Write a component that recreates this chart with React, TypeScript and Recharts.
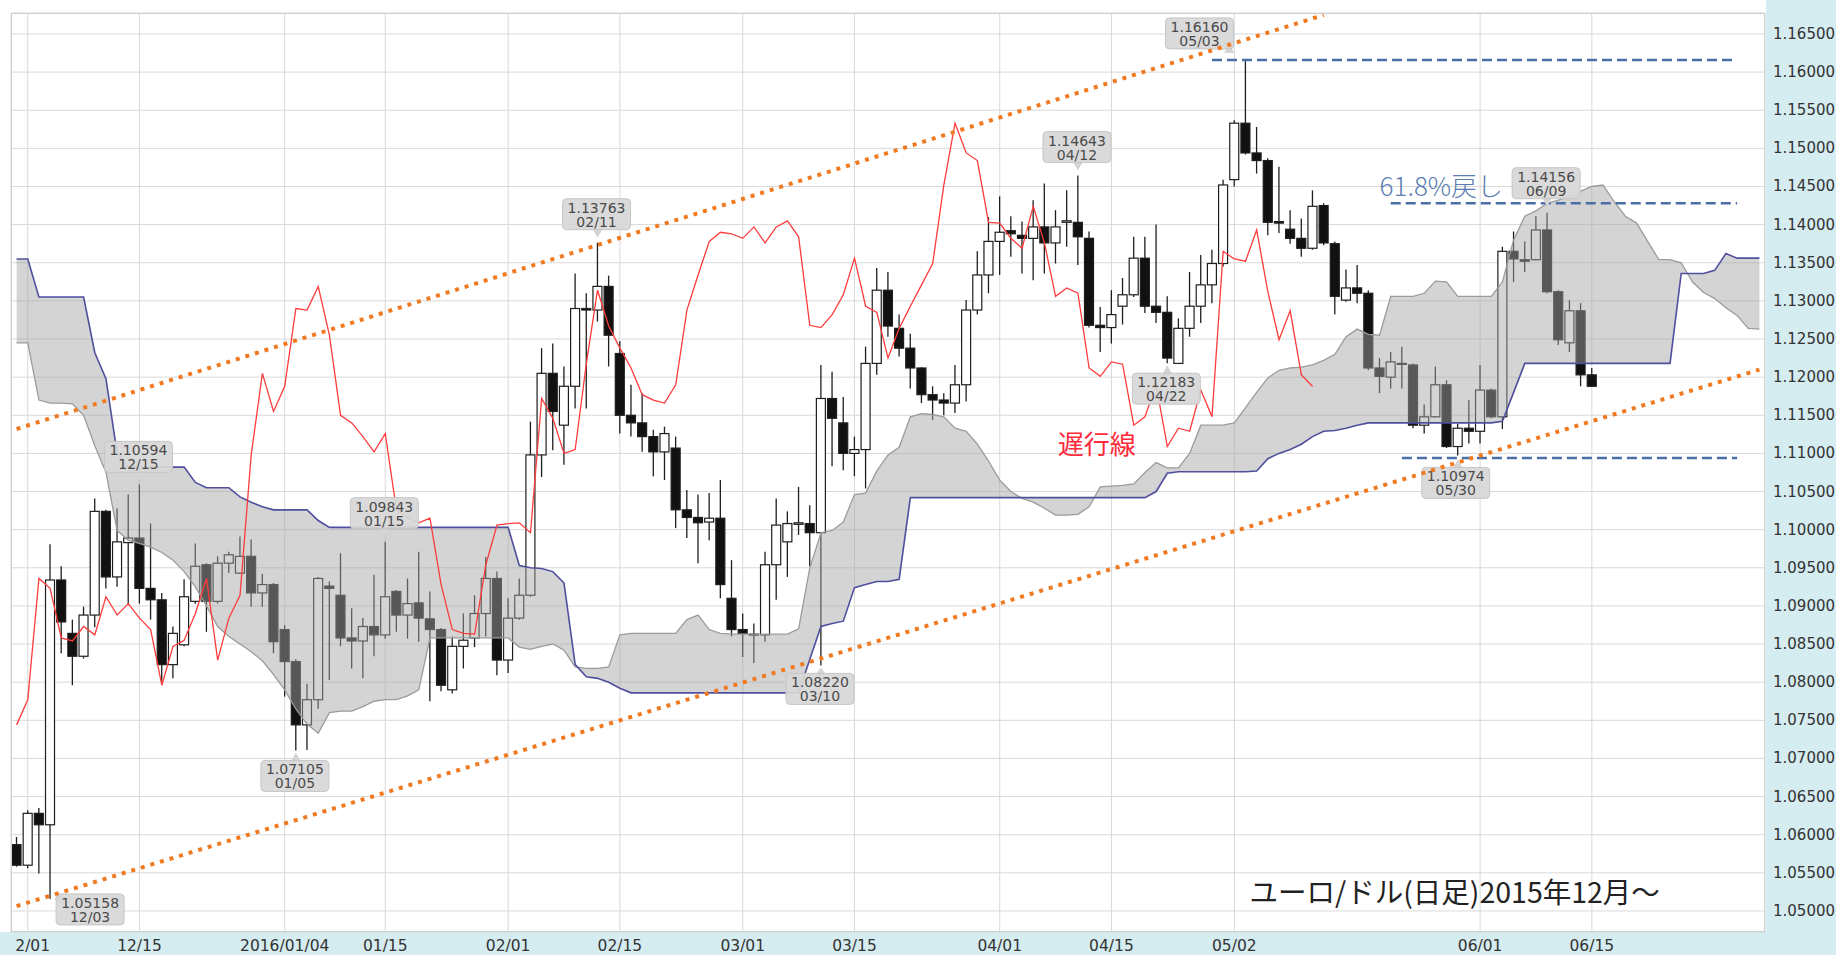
import React from 'react';
import {
  ComposedChart,
  Bar,
  Area,
  Line,
  XAxis,
  YAxis,
  CartesianGrid,
  ReferenceLine,
  ReferenceDot,
} from 'recharts';

// ---------- categories ----------
const dates = [
  '11/30','12/01','12/02','12/03','12/04','12/07','12/08','12/09','12/10','12/11','12/14','12/15','12/16','12/17','12/18','12/21','12/22','12/23','12/24','12/25','12/28','12/29','12/30','12/31',
  '01/04','01/05','01/06','01/07','01/08','01/11','01/12','01/13','01/14','01/15','01/18','01/19','01/20','01/21','01/22','01/25','01/26','01/27','01/28','01/29',
  '02/01','02/02','02/03','02/04','02/05','02/08','02/09','02/10','02/11','02/12','02/15','02/16','02/17','02/18','02/19','02/22','02/23','02/24','02/25','02/26','02/29',
  '03/01','03/02','03/03','03/04','03/07','03/08','03/09','03/10','03/11','03/14','03/15','03/16','03/17','03/18','03/21','03/22','03/23','03/24','03/25','03/28','03/29','03/30','03/31',
  '04/01','04/04','04/05','04/06','04/07','04/08','04/11','04/12','04/13','04/14','04/15','04/18','04/19','04/20','04/21','04/22','04/25','04/26','04/27','04/28','04/29',
  '05/02','05/03','05/04','05/05','05/06','05/09','05/10','05/11','05/12','05/13','05/16','05/17','05/18','05/19','05/20','05/23','05/24','05/25','05/26','05/27','05/30','05/31',
  '06/01','06/02','06/03','06/06','06/07','06/08','06/09','06/10','06/13','06/14','06/15',
  '06/16','06/17','06/20','06/21','06/22','06/23','06/24','06/27','06/28','06/29','06/30','07/01','07/04','07/05','07/06',
];

// ---------- candles ----------
const opens = [
  1.0587,1.0560,1.0628,1.0613,1.0934,1.0864,1.0834,1.0888,1.1024,1.0938,1.0983,1.0989,1.0923,1.0908,1.0823,1.0849,1.0906,1.0954,1.0906,1.0956,
  1.0943,1.0965,1.0917,1.0928,1.0869,1.0827,1.0744,1.0777,1.0926,1.0914,1.0858,1.0854,1.0873,1.0862,1.0919,1.0888,1.0904,1.0883,1.0869,1.0790,
  1.0847,1.0858,1.0890,1.0936,1.0829,1.0884,1.0914,1.1098,1.1205,1.1137,1.1188,1.1290,1.1288,1.1319,1.1231,1.1150,1.1140,1.1122,1.1102,1.1107,
  1.1026,1.1016,1.1010,1.1015,1.0910,1.0869,1.0862,1.0862,1.0954,1.0984,1.1007,1.1008,1.0996,1.1172,1.1140,1.1100,1.1105,1.1218,1.1314,1.1264,
  1.1238,1.1212,1.1177,1.1170,1.1166,1.1190,1.1288,1.1334,1.1378,1.1392,1.1386,1.1382,1.1397,1.1376,1.1403,1.1403,1.1382,1.1268,1.1265,1.1293,
  1.1308,1.1356,1.1293,1.1285,1.1218,1.1264,1.1293,1.1321,1.1349,1.1459,1.1533,1.1494,1.1484,1.1404,1.1394,1.1382,1.1369,1.1425,1.1375,1.1301,
  1.1317,1.1310,1.1212,1.1200,1.1218,1.1216,1.1137,1.1148,1.1190,1.1109,1.1133,1.1129,1.1183,1.1148,1.1365,1.1354,1.1354,1.1393,1.1312,1.1245,
  1.1287,1.1203,
];
const highs = [
  1.0597,1.0632,1.0635,1.0981,1.0952,1.0882,1.0899,1.1041,1.1026,1.1028,1.1046,1.10594,1.1008,1.0917,1.0873,1.0935,1.0982,1.0956,1.0965,1.0971,
  1.0991,1.0987,1.0942,1.0930,1.0875,1.0830,1.0798,1.0938,1.0932,1.0969,1.0897,1.0884,1.0941,1.09843,1.0921,1.0936,1.0971,1.0919,1.0871,1.0860,
  1.0890,1.0914,1.0964,1.0945,1.0910,1.0936,1.11416,1.1238,1.1244,1.1214,1.1336,1.1310,1.13763,1.1333,1.1247,1.1190,1.1179,1.1131,1.1135,1.1122,
  1.1052,1.1046,1.1048,1.1065,1.0960,1.0890,1.0877,1.0971,1.1041,1.1024,1.1056,1.1032,1.1216,1.1207,1.1174,1.1122,1.1240,1.1343,1.1338,1.1282,
  1.1257,1.1213,1.1188,1.1179,1.1216,1.1301,1.1365,1.1410,1.1437,1.1411,1.1404,1.1432,1.1454,1.1419,1.1445,1.14643,1.1391,1.1292,1.1314,1.1330,
  1.1384,1.1384,1.1400,1.1306,1.1277,1.1338,1.1360,1.1367,1.1459,1.1537,1.1616,1.1528,1.1487,1.1476,1.1419,1.1408,1.1445,1.1428,1.1378,1.1341,
  1.1347,1.1314,1.1225,1.1233,1.1240,1.1218,1.1164,1.1214,1.1196,1.1139,1.1170,1.1216,1.1185,1.1371,1.1391,1.1378,1.1411,1.14156,1.1314,1.1301,
  1.1297,1.1212,
];
const lows = [
  1.0558,1.0556,1.0549,1.05158,1.0838,1.0796,1.0831,1.0872,1.0923,1.0925,1.0901,1.0903,1.0882,1.0799,1.0805,1.0847,1.0903,1.0866,1.0903,1.0943,
  1.0942,1.0899,1.0899,1.0838,1.0781,1.07105,1.0711,1.0765,1.0803,1.0847,1.0818,1.0805,1.0834,1.0857,1.0866,1.0857,1.0853,1.0775,1.0788,1.0785,
  1.0818,1.0846,1.0860,1.0809,1.0812,1.0882,1.0912,1.1069,1.1104,1.1085,1.1159,1.1159,1.1273,1.1214,1.1126,1.1122,1.1102,1.1070,1.1065,1.1002,
  1.0989,1.0956,1.0986,1.0910,1.0860,1.0833,1.0825,1.0853,1.0908,1.0938,1.0993,1.0952,1.0822,1.1083,1.1078,1.1070,1.1054,1.1203,1.1253,1.1227,
  1.1185,1.1166,1.1144,1.1150,1.1153,1.1168,1.1282,1.1310,1.1334,1.1358,1.1336,1.1327,1.1336,1.1349,1.1371,1.1347,1.1265,1.1233,1.1244,1.1269,
  1.1305,1.1284,1.1271,1.12183,1.1218,1.1253,1.1271,1.1297,1.1345,1.1450,1.1492,1.1467,1.1386,1.1389,1.1375,1.1358,1.1367,1.1373,1.1282,1.1299,
  1.1297,1.1209,1.1179,1.1185,1.1185,1.1133,1.1126,1.1147,1.1107,1.10974,1.1113,1.1113,1.1146,1.1132,1.1325,1.1338,1.1353,1.1310,1.1242,1.1233,
  1.1188,1.1187,
];
const closes = [
  1.0560,1.0628,1.0613,1.0934,1.0879,1.0834,1.0888,1.1024,1.0938,1.0984,1.0989,1.0923,1.0908,1.0823,1.0864,1.0912,1.0952,1.0906,1.0956,1.0967,
  1.0965,1.0917,1.0928,1.0853,1.0827,1.0744,1.0777,1.0936,1.0923,1.0858,1.0854,1.0873,1.0862,1.0912,1.0888,1.0903,1.0884,1.0869,1.0796,1.0847,
  1.0855,1.0890,1.0936,1.0829,1.0884,1.0914,1.1098,1.1205,1.1155,1.1188,1.1290,1.1288,1.1319,1.1255,1.1150,1.1140,1.1122,1.1102,1.1126,1.1026,
  1.1016,1.1009,1.1015,1.0928,1.0869,1.0864,1.0863,1.0954,1.1006,1.1008,1.1009,1.0996,1.1172,1.1146,1.1100,1.1105,1.1218,1.1314,1.1267,1.1238,
  1.1212,1.1177,1.1170,1.1166,1.1190,1.1288,1.1334,1.1378,1.1390,1.1388,1.1382,1.1397,1.1376,1.1397,1.1405,1.1384,1.1268,1.1265,1.1282,1.1308,
  1.1356,1.1293,1.1285,1.1225,1.1264,1.1293,1.1321,1.1349,1.1452,1.1533,1.1494,1.1484,1.1403,1.1402,1.1382,1.1369,1.1424,1.1376,1.1306,1.1317,
  1.1310,1.1212,1.1201,1.1220,1.1217,1.1137,1.1148,1.1190,1.1109,1.1133,1.1129,1.1183,1.1148,1.1365,1.1355,1.1352,1.1393,1.1312,1.1249,1.1287,
  1.1203,1.1188,
];

// ---------- ichimoku cloud (leading spans, already shifted forward) ----------
const spanA = [
  1.1245,1.1245,1.1170,1.1166,1.1166,1.1165,1.1150,1.1110,1.1075,1.0999,1.0986,1.0982,1.0977,1.0970,1.0960,1.0945,1.0925,1.0900,1.0873,1.0860,
  1.0850,1.0840,1.0828,1.0810,1.0790,1.0765,1.0745,1.0733,1.0760,1.0762,1.0762,1.0768,1.0775,1.0777,1.0777,1.0782,1.0790,1.0858,1.0858,1.0858,
  1.0858,1.0858,1.0858,1.0858,1.0858,1.0846,1.0843,1.0847,1.0850,1.0842,1.0820,1.0818,1.0818,1.0820,1.0862,1.0864,1.0864,1.0864,1.0864,1.0864,
  1.0882,1.0888,1.0869,1.0864,1.0863,1.0863,1.0863,1.0863,1.0863,1.0863,1.0870,1.0950,1.0996,1.0999,1.1010,1.1046,1.1048,1.1077,1.1098,1.1108,
  1.1148,1.1152,1.1151,1.1148,1.1133,1.1129,1.1112,1.1090,1.1065,1.1050,1.1041,1.1036,1.1028,1.1019,1.1019,1.1020,1.1030,1.1056,1.1057,1.1058,
  1.1060,1.1075,1.1088,1.1081,1.1081,1.1100,1.1137,1.1137,1.1137,1.1140,1.1160,1.1180,1.1199,1.1209,1.1212,1.1213,1.1216,1.1222,1.1230,1.1253,
  1.1263,1.1256,1.1255,1.1306,1.1306,1.1306,1.1310,1.1326,1.1325,1.1306,1.1306,1.1306,1.1306,1.1325,1.1380,1.1411,1.1418,1.1428,1.1432,1.1437,
  1.1444,1.1450,1.1452,1.1430,1.1411,1.1402,1.1378,1.1354,1.1354,1.1350,1.1325,1.1311,1.1303,1.1291,1.1281,1.1264,1.1263,
];
const spanB = [
  1.1355,1.1355,1.1305,1.1305,1.1305,1.1305,1.1305,1.1232,1.1198,1.1100,1.1082,1.1082,1.1082,1.1082,1.1082,1.1082,1.1062,1.1055,1.1055,1.1055,
  1.1043,1.1036,1.1030,1.1026,1.1026,1.1026,1.1026,1.1012,1.1003,1.1003,1.1003,1.1003,1.1003,1.1003,1.1003,1.1003,1.1003,1.1003,1.1003,1.1003,
  1.1003,1.1003,1.1003,1.1003,1.1003,1.0953,1.0950,1.0949,1.0945,1.0930,1.0823,1.0807,1.0805,1.0800,1.0792,1.0786,1.0786,1.0786,1.0786,1.0786,
  1.0786,1.0786,1.0786,1.0786,1.0786,1.0786,1.0786,1.0786,1.0786,1.0786,1.0786,1.0830,1.0873,1.0877,1.0880,1.0924,1.0928,1.0932,1.0932,1.0935,
  1.1042,1.1042,1.1042,1.1042,1.1042,1.1042,1.1042,1.1042,1.1042,1.1042,1.1042,1.1042,1.1042,1.1042,1.1042,1.1042,1.1042,1.1042,1.1042,1.1042,
  1.1042,1.1042,1.1050,1.1074,1.1076,1.1076,1.1076,1.1076,1.1076,1.1076,1.1076,1.1077,1.1093,1.1100,1.1105,1.1112,1.1122,1.1129,1.1130,1.1133,
  1.1137,1.1140,1.1140,1.1140,1.1140,1.1140,1.1140,1.1140,1.1140,1.1140,1.1140,1.1140,1.1140,1.1142,1.1180,1.1218,1.1218,1.1218,1.1218,1.1218,
  1.1218,1.1218,1.1218,1.1218,1.1218,1.1218,1.1218,1.1218,1.1218,1.1336,1.1336,1.1336,1.1340,1.1362,1.1356,1.1356,1.1356,
];

// lagging span: close plotted 25 bars back
const lagShift = 25;

// ---------- ticks ----------
const xTicks = ['12/01','12/15','01/04','01/15','02/01','02/15','03/01','03/15','04/01','04/15','05/02','06/01','06/15'];
const xTickText: Record<string, string> = { '01/04': '2016/01/04' };
const yTicks = [
  1.05,1.055,1.06,1.065,1.07,1.075,1.08,1.085,1.09,1.095,1.1,1.105,1.11,1.115,1.12,1.125,1.13,1.135,1.14,1.145,1.15,1.155,1.16,1.165,
];

// ---------- highlighted extremes ----------
const calloutDates = ['12/03','12/15','01/05','01/15','02/11','03/10','04/12','04/22','05/03','05/30','06/09'];
const calloutPrices = [1.05158,1.10594,1.07105,1.09843,1.13763,1.0822,1.14643,1.12183,1.1616,1.10974,1.14156];

// ---------- drawn lines ----------
const upperTrend = [{ d: '11/30', v: 1.1132 }, { d: '05/12', v: 1.1675 }];
const lowerTrend = [{ d: '11/30', v: 1.05064 }, { d: '07/06', v: 1.12099 }];
const hLines = [
  { from: '04/28', to: '07/04', v: 1.1616 },
  { from: '05/20', to: '07/04', v: 1.1428 },
  { from: '05/23', to: '07/04', v: 1.1094 },
];

// layout of callout boxes (pixel offsets of the box's top-left corner from its point)
const calloutOffsets: [number, number][] = [
  [6, -5], [-35, -43], [-35, 10], [-35, -44], [-35, -44], [-35, 8], [-35, -44], [-35, 10], [-80, -42], [-36, 12], [-35, -45],
];

const data = dates.map((d, i) => {
  const has = i < opens.length;
  const li = i + lagShift;
  return {
    date: d,
    hl: has ? [lows[i], highs[i]] : null,
    o: has ? opens[i] : null,
    h: has ? highs[i] : null,
    l: has ? lows[i] : null,
    c: has ? closes[i] : null,
    cloud: [spanA[i], spanB[i]],
    spanA: spanA[i],
    spanB: spanB[i],
    chikou: li < closes.length ? closes[li] : null,
  };
});

const NUM_FONT = '"DejaVu Sans", Verdana, sans-serif';
const JP_FONT = '"Noto Sans CJK JP", "DejaVu Sans", sans-serif';

const Candle = (props: any) => {
  const { x, y, width, height, payload } = props;
  if (!payload || payload.o == null || x == null) return <g />;
  const { o, h, l, c } = payload;
  const top = Math.min(y, y + height);
  const hh = Math.abs(height);
  const cx = x + width / 2;
  const range = h - l || 1;
  const toY = (v: number) => top + ((h - v) / range) * hh;
  const bTop = toY(Math.max(o, c));
  const bBot = toY(Math.min(o, c));
  const bw = 9;
  const up = c >= o;
  return (
    <g>
      <line x1={cx} x2={cx} y1={top} y2={top + hh} stroke="#1e1e1e" strokeWidth={1.3} />
      <rect
        x={cx - bw / 2}
        y={bTop}
        width={bw}
        height={Math.max(1, bBot - bTop)}
        fill={up ? '#ffffff' : '#111111'}
        stroke="#1e1e1e"
        strokeWidth={1.2}
      />
    </g>
  );
};

const XTick = (props: any) => {
  const { x, y, payload } = props;
  const v = payload.value;
  const label = xTickText[v] ?? v;
  const t = (
    <text x={x} y={y + 6} textAnchor="middle" dominantBaseline="central" fontSize={15.5} fill="#333" fontFamily={NUM_FONT}>
      {label}
    </text>
  );
  if (v === xTicks[0]) {
    return (
      <g>
        <defs>
          <clipPath id="firstTickClip">
            <rect x={15} y={y - 10} width={120} height={40} />
          </clipPath>
        </defs>
        <g clipPath="url(#firstTickClip)">{t}</g>
      </g>
    );
  }
  return t;
};

const YTick = (props: any) => {
  const { x, y, payload } = props;
  return (
    <text x={x} y={y} textAnchor="start" dominantBaseline="central" fontSize={15} fill="#333" fontFamily={NUM_FONT}>
      {Number(payload.value).toFixed(5)}
    </text>
  );
};

const makeCallout = (k: number) => (p: any) => {
  const { cx, cy } = p;
  if (cx == null || cy == null) return <g />;
  const [ox, oy] = calloutOffsets[k];
  const w = 68;
  const h = 31;
  const bx = cx + ox;
  const by = cy + oy;
  const px = Math.min(Math.max(cx, bx + 6), bx + w - 6);
  const py = Math.min(Math.max(cy, by), by + h);
  const dx = cx - px;
  const dy = cy - py;
  const len = Math.hypot(dx, dy) || 1;
  const ux = dx / len;
  const uy = dy / len;
  const tip = Math.max(0, Math.min(len - 2, 8));
  const ax = px + ux * tip;
  const ay = py + uy * tip;
  const nx = -uy;
  const ny = ux;
  const pts = `${px + nx * 5 - ux},${py + ny * 5 - uy} ${ax},${ay} ${px - nx * 5 - ux},${py - ny * 5 - uy}`;
  return (
    <g>
      <polygon points={pts} fill="#d4d4d4" />
      <rect x={bx} y={by} width={w} height={h} rx={4} ry={4} fill="#d7d7d7" fillOpacity={0.93} stroke="#c6c6c6" strokeWidth={1} />
      <text x={bx + w / 2} y={by + 9} textAnchor="middle" dominantBaseline="central" fontSize={14} fill="#4a4a4a" fontFamily={NUM_FONT}>
        {calloutPrices[k].toFixed(5)}
      </text>
      <text x={bx + w / 2} y={by + 23} textAnchor="middle" dominantBaseline="central" fontSize={14} fill="#4a4a4a" fontFamily={NUM_FONT}>
        {calloutDates[k]}
      </text>
    </g>
  );
};

const makeText = (txt: string, dx: number, size: number, color: string, weight = 400) => (p: any) => {
  const { cx, cy } = p;
  if (cx == null || cy == null) return <g />;
  return (
    <text x={cx + dx} y={cy} textAnchor="start" dominantBaseline="central" fontSize={size} fontWeight={weight} fill={color} fontFamily={JP_FONT}>
      {txt}
    </text>
  );
};

export default function App() {
  return (
    <div style={{ position: 'absolute', left: 0, top: 0, width: 1836, height: 955, background: '#ffffff', overflow: 'hidden' }}>
      <div style={{ position: 'absolute', left: 1766, top: 0, width: 70, height: 955, background: '#d5ecf0' }} />
      <div style={{ position: 'absolute', left: 0, top: 932, width: 1836, height: 23, background: '#d5ecf0' }} />
      <div style={{ position: 'absolute', left: 0, top: 0 }}>
        <ComposedChart width={1836} height={955} data={data} margin={{ top: 13, right: 0, bottom: 0, left: 11 }} barCategoryGap={0}>
          <CartesianGrid stroke="#d9d9d9" strokeWidth={1} fill="#ffffff" fillOpacity={1} />
          <XAxis
            dataKey="date"
            ticks={xTicks}
            interval={0}
            tickLine={false}
            axisLine={false}
            height={23}
            tick={<XTick />}
          />
          <YAxis
            orientation="right"
            type="number"
            domain={[1.04724, 1.16775]}
            allowDataOverflow
            ticks={yTicks}
            interval={0}
            tickLine={false}
            axisLine={false}
            width={71}
            tick={<YTick />}
          />
          <Bar dataKey="hl" shape={Candle} isAnimationActive={false} zIndex={300} />
          <Area
            dataKey="cloud"
            type="linear"
            stroke="none"
            fill="#a5a5a5"
            fillOpacity={0.48}
            dot={false}
            activeDot={false}
            isAnimationActive={false}
            zIndex={350}
          />
          <Line dataKey="spanA" type="linear" stroke="#9b9b9b" strokeWidth={1.3} dot={false} activeDot={false} isAnimationActive={false} zIndex={400} />
          <Line dataKey="spanB" type="linear" stroke="#4f4f9e" strokeWidth={1.6} dot={false} activeDot={false} isAnimationActive={false} zIndex={400} />
          <Line dataKey="chikou" type="linear" stroke="#ff3b3b" strokeWidth={1.3} dot={false} activeDot={false} isAnimationActive={false} zIndex={400} />
          {hLines.map((l, i) => (
            <ReferenceLine
              key={'h' + i}
              segment={[{ x: l.from, y: l.v }, { x: l.to, y: l.v }]}
              stroke="#4a6fa6"
              strokeWidth={2.5}
              strokeDasharray="10 5"
              zIndex={420}
            />
          ))}
          {calloutDates.map((d, k) => (
            <ReferenceDot key={'c' + k} x={d} y={calloutPrices[k]} r={0} shape={makeCallout(k)} zIndex={450} />
          ))}
          <ReferenceDot x="04/11" y={1.1114} r={0} shape={makeText('遅行線', -9, 26, '#ff2a3a')} zIndex={460} />
          <ReferenceDot x="05/19" y={1.1452} r={0} shape={makeText('61.8%戻し', 0, 26, '#5a7db3', 300)} zIndex={460} />
          <ReferenceDot x="05/03" y={1.0527} r={0} shape={makeText('ユーロ/ドル(日足)2015年12月〜', 4, 28.5, '#222222')} zIndex={460} />
          <ReferenceLine
            segment={[{ x: upperTrend[0].d, y: upperTrend[0].v }, { x: upperTrend[1].d, y: upperTrend[1].v }]}
            stroke="#f07a22"
            strokeWidth={4}
            strokeDasharray="4 6"
            zIndex={500}
          />
          <ReferenceLine
            segment={[{ x: lowerTrend[0].d, y: lowerTrend[0].v }, { x: lowerTrend[1].d, y: lowerTrend[1].v }]}
            stroke="#f07a22"
            strokeWidth={4}
            strokeDasharray="4 6"
            zIndex={500}
          />
        </ComposedChart>
      </div>
      <div
        style={{
          position: 'absolute',
          left: 11,
          top: 13,
          width: 1754,
          height: 919,
          border: '1px solid #cfcfcf',
          boxSizing: 'border-box',
          pointerEvents: 'none',
        }}
      />
    </div>
  );
}
